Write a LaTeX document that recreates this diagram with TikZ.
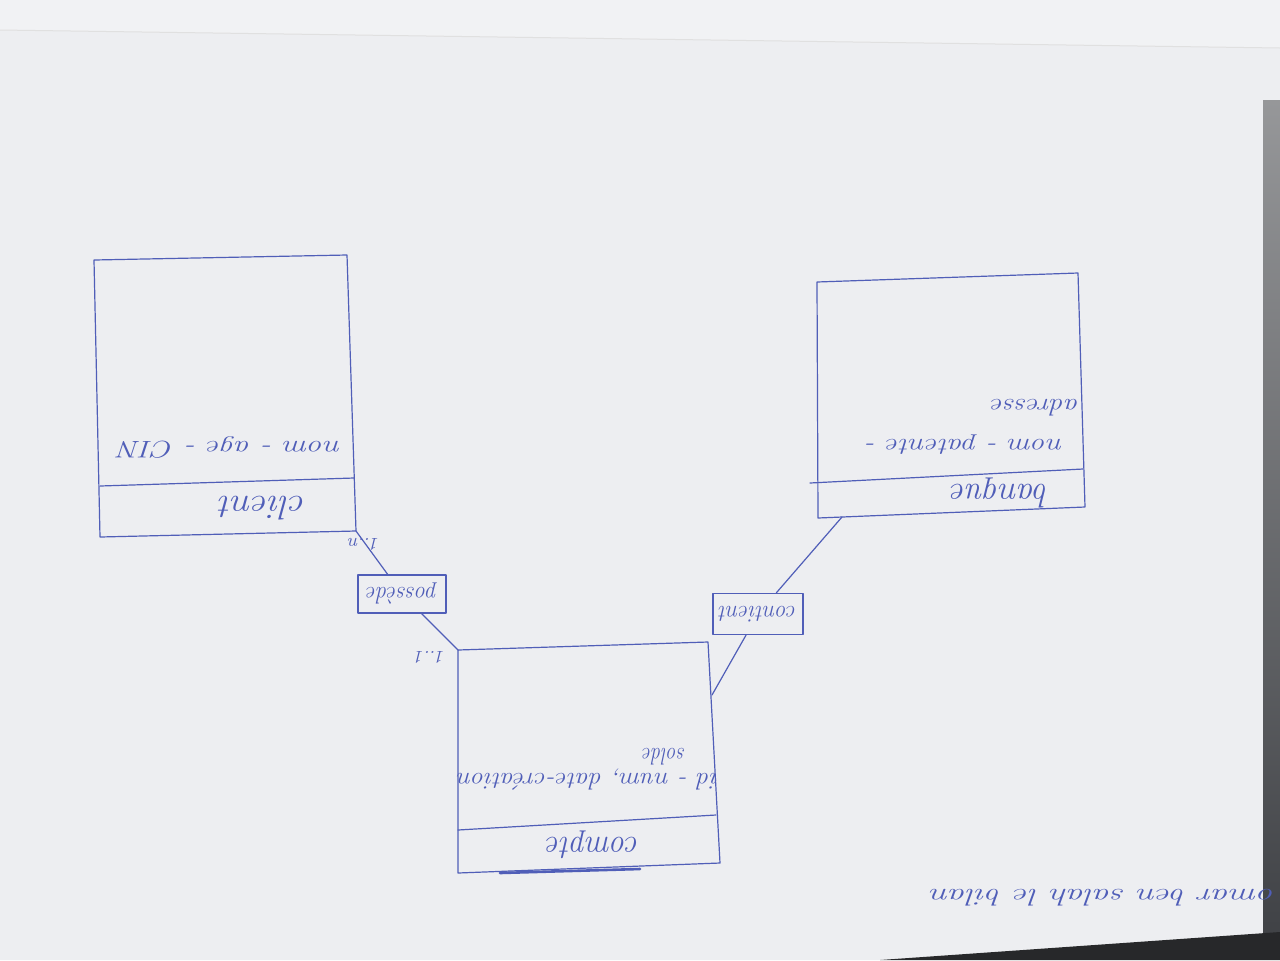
\documentclass[tikz,border=0pt]{standalone}
\usepackage{fontspec}
\usepackage{graphicx}
\definecolor{paper}{RGB}{237,238,241}
\definecolor{backdrop}{RGB}{241,242,244}
\definecolor{pen}{RGB}{80,94,184}
\definecolor{desk}{RGB}{64,66,70}
\begin{document}
\begin{tikzpicture}[x=0.5pt,y=-0.5pt,
  ink/.style={draw=pen,line width=0.6pt,line join=round,line cap=round},
  hand/.style={text=pen,inner sep=0pt,rotate=180},
  head/.style={hand,font=\fontsize{17}{19}\selectfont\itshape},
  attr/.style={hand,font=\fontsize{12}{14}\selectfont\itshape},
  relbox/.style={ink,text=pen,rotate=180,inner sep=0pt,
    font=\fontsize{12}{14}\selectfont\itshape},
  card/.style={hand,font=\fontsize{9}{11}\selectfont\itshape}]
\useasboundingbox (0,0) rectangle (1280,960);

% sheet of paper on the desk
\fill[backdrop] (0,0) rectangle (1280,960);
\fill[paper] (0,30) -- (1280,48) -- (1280,935) -- (880,960) -- (0,960) -- cycle;
\draw[black!12,line width=0.5pt] (0,30) -- (1280,48);
\shade[top color=desk!55,bottom color=desk] (1263,100) rectangle (1280,936);
\fill[desk!60!black] (880,960) -- (1280,932) -- (1280,960) -- cycle;

% entity: client
\coordinate (c1) at (94,260);  \coordinate (c2) at (347,255);
\coordinate (c3) at (356,531); \coordinate (c4) at (100,537);
\draw[ink] (c1) -- (c2) -- (c3) -- (c4) -- cycle;
\draw[ink] (100,486) -- (354,478);
\node[head] (clientname) at (263,508) {\scalebox{1.1}[1]{client}};
\node[attr,anchor=west] (clientattr) at (342,447) {\scalebox{1.3}[1]{nom - age - CIN}};

% entity: banque
\coordinate (b1) at (817,282);  \coordinate (b2) at (1078,273);
\coordinate (b3) at (1085,507); \coordinate (b4) at (818,518);
\coordinate (bl) at (842,517);
\draw[ink] (b1) -- (b2) -- (b3) -- (b4) -- cycle;
\draw[ink] (810,483) -- (1083,469);
\node[head] (banquename) at (1000,493) {banque};
\node[attr,anchor=west] (banqueattr1) at (1064,445) {\scalebox{1.24}[1]{nom - patente -}};
\node[attr,anchor=west] (banqueattr2) at (1080,408) {\scalebox{1.2}[1]{adresse}};

% entity: compte
\coordinate (k1) at (458,650);  \coordinate (k2) at (708,642);
\coordinate (k3) at (720,863);  \coordinate (k4) at (458,873);
\coordinate (kr) at (712,695);
\draw[ink] (k1) -- (k2) -- (k3) -- (k4) -- cycle;
\draw[ink] (458,830) -- (716,815);
\draw[ink,line width=1.3pt] (500,873) -- (640,869);
\node[head] (comptename) at (593,845) {\scalebox{0.92}[1]{compte}};
\node[attr,anchor=west] (compteattr1) at (719,780) {\scalebox{1.1}[1]{id - num, date-création}};
\node[attr,anchor=west] (compteattr2) at (686,757) {\scalebox{0.85}[1]{solde}};

% associations
\node[relbox,minimum width=44pt,minimum height=19pt] (poss) at (402,594) {\scalebox{0.95}[1]{possède}};
\node[relbox,minimum width=45pt,minimum height=20.5pt] (cont) at (758,614) {\scalebox{0.95}[1]{contient}};
\draw[ink] (c3) -- (poss);
\draw[ink] (poss) -- (k1);
\draw[ink] (bl) -- (cont);
\draw[ink] (cont) -- (kr);

% cardinalities
\node[card] (cardclient) at (364,544) {1..n};
\node[card] (cardcompte) at (430,657) {1..1};

% name written along the edge of the sheet
\node[attr,anchor=west] (signature) at (1276,898) {\scalebox{1.45}[1]{omar ben salah le bilan}};
\end{tikzpicture}
\end{document}
